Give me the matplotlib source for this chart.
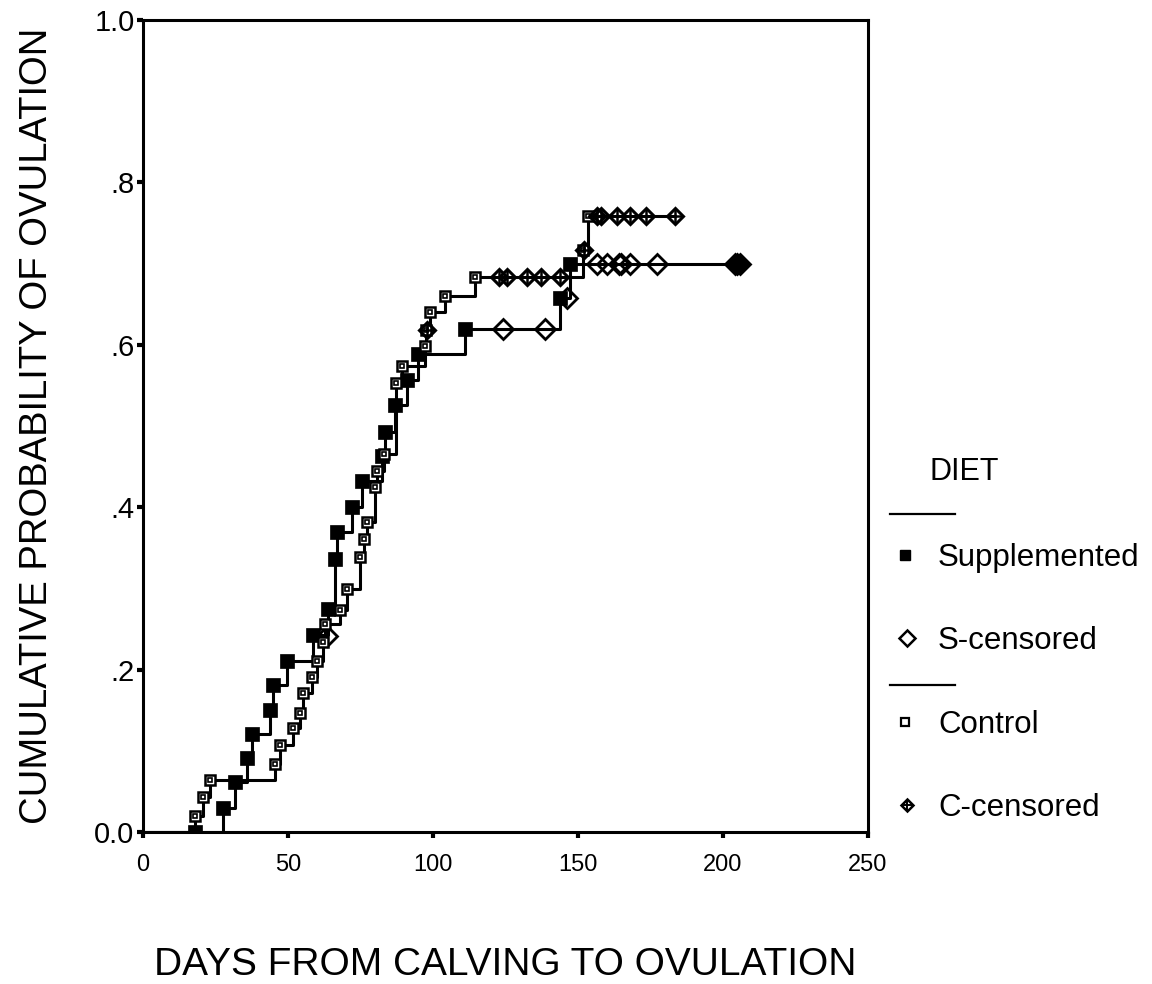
import numpy as np
import matplotlib.pyplot as plt
from matplotlib.lines import Line2D

# cumulative probability of ovulation
supp_days = [18.0, 27.5, 31.7, 36.0, 37.8, 43.8, 44.7, 49.8, 58.6, 63.8, 66.2, 67.0,
             72.0, 75.5, 82.4, 83.4, 86.9, 91.0, 94.8, 111.0, 143.8, 147.2]
supp_prob = [0.000, 0.030, 0.061, 0.091, 0.121, 0.150, 0.181, 0.211, 0.242, 0.275, 0.336, 0.369,
             0.400, 0.432, 0.463, 0.493, 0.526, 0.557, 0.589, 0.619, 0.657, 0.700]
supp_end = 205.0
supp_cens_days = [63.6, 124.0, 138.6, 146.3, 156.4, 160.0, 164.0, 165.0, 168.0, 177.3, 204.0, 205.0, 206.0]
supp_cens_prob = [0.241, 0.619, 0.619, 0.657, 0.700, 0.700, 0.700, 0.700, 0.700, 0.700, 0.700, 0.700, 0.700]

ctrl_days = [18.0, 20.6, 23.1, 45.5, 47.2, 51.6, 54.3, 55.2, 58.3, 60.1, 62.0, 62.7, 68.0,
             70.3, 74.7, 76.4, 77.4, 80.0, 80.6, 83.0, 87.4, 89.3, 97.2, 97.7, 99.0, 104.1,
             114.5, 151.6, 153.4]
ctrl_prob = [0.020, 0.043, 0.064, 0.084, 0.107, 0.128, 0.147, 0.171, 0.191, 0.211, 0.234, 0.256, 0.273,
             0.299, 0.339, 0.361, 0.382, 0.425, 0.445, 0.465, 0.553, 0.574, 0.598, 0.618, 0.640, 0.660,
             0.684, 0.717, 0.758]
ctrl_end = 183.5
ctrl_cens_days = [97.9, 122.8, 125.6, 132.5, 137.1, 143.8, 152.0, 156.6, 158.0, 163.5, 168.0, 173.5, 183.5]
ctrl_cens_prob = [0.618, 0.684, 0.684, 0.684, 0.684, 0.684, 0.717, 0.758, 0.758, 0.758, 0.758, 0.758, 0.758]

x_ticks = [0, 50, 100, 150, 200, 250]
y_ticks = [0.0, 0.2, 0.4, 0.6, 0.8, 1.0]
y_ticklabels = ['0.0', '.2', '.4', '.6', '.8', '1.0']

plt.rcParams['font.family'] = ['Liberation Sans', 'DejaVu Sans']

fig = plt.figure(figsize=(11.52, 9.84), dpi=100)
ax = fig.add_axes([0.124, 0.1545, 0.6295, 0.8252])


def km_line(days, prob, end):
    xs = [0.0] + list(days) + [end]
    ys = [0.0] + list(prob) + [prob[-1]]
    ax.step(xs, ys, where='post', color='black', lw=2.2, zorder=2)


def open_square(x, y, s=7.5):
    ax.plot(x, y, ls='none', marker='s', ms=s, mfc='white', mec='black', mew=1.8, zorder=4)
    ax.plot(x, y, ls='none', marker='s', ms=s * 0.35, mfc='white', mec='black', mew=1.2, zorder=4)


def crossed_diamond(x, y, s=8.5):
    ax.plot(x, y, ls='none', marker='D', ms=s, mfc='none', mec='black', mew=2.2, zorder=5)
    ax.plot(x, y, ls='none', marker='+', ms=s * 1.2, mec='black', mew=1.8, zorder=5)


km_line(supp_days, supp_prob, supp_end)
km_line(ctrl_days, ctrl_prob, ctrl_end)

ax.plot(supp_days, supp_prob, ls='none', marker='s', ms=10.5, mfc='black', mec='black',
        mew=0.5, zorder=3)
ax.plot(supp_cens_days, supp_cens_prob, ls='none', marker='D', ms=10, mfc='none',
        mec='black', mew=2.0, zorder=3)
# the last censored cases overlap into a dark blob
ax.plot(supp_cens_days[-2], supp_cens_prob[-2], ls='none', marker='D', ms=9, mfc='black',
        mec='black', zorder=3)
open_square(ctrl_days, ctrl_prob)
crossed_diamond(ctrl_cens_days, ctrl_cens_prob)

ax.set_xlim(0, 250)
ax.set_ylim(0, 1.0)
ax.set_xticks(x_ticks)
ax.set_xticklabels([str(t) for t in x_ticks])
ax.set_yticks(y_ticks)
ax.set_yticklabels(y_ticklabels)
for sp in ax.spines.values():
    sp.set_linewidth(2.2)
ax.tick_params(axis='x', direction='out', length=4, width=3, pad=12, labelsize=17)
ax.tick_params(axis='y', direction='out', length=4, width=3, pad=2, labelsize=21)

ax.set_xlabel('DAYS FROM CALVING TO OVULATION', fontsize=28, labelpad=51)
ax.set_ylabel('CUMULATIVE PROBABILITY OF OVULATION', fontsize=27.5, labelpad=28)

# legend drawn by hand to the right of the plot
W, H = 1152.0, 984.0


def fx(px):
    return px / W


def fy(py):
    return 1 - py / H


fig.text(fx(930), fy(472), 'DIET', fontsize=22, va='center', ha='left')
for yy in (514, 685):
    fig.add_artist(Line2D([fx(890), fx(955)], [fy(yy), fy(yy)], color='black', lw=1.6))

items = [
    (558, 'Supplemented'),
    (641, 'S-censored'),
    (725, 'Control'),
    (808, 'C-censored'),
]
for yy, lab in items:
    fig.text(fx(938), fy(yy), lab, fontsize=22.5, va='center', ha='left')

fig.add_artist(Line2D([fx(905)], [fy(555)], ls='none', marker='s', ms=7, mfc='black', mec='black'))
fig.add_artist(Line2D([fx(907)], [fy(638)], ls='none', marker='D', ms=8, mfc='white',
                      mec='black', mew=1.8))
fig.add_artist(Line2D([fx(905)], [fy(722)], ls='none', marker='s', ms=5.5, mfc='white',
                      mec='black', mew=1.6))
fig.add_artist(Line2D([fx(907)], [fy(805)], ls='none', marker='D', ms=6.5, mfc='none',
                      mec='black', mew=1.8))
fig.add_artist(Line2D([fx(907)], [fy(805)], ls='none', marker='+', ms=7, mec='black', mew=1.4))

fig.savefig('out.png', dpi=100)
